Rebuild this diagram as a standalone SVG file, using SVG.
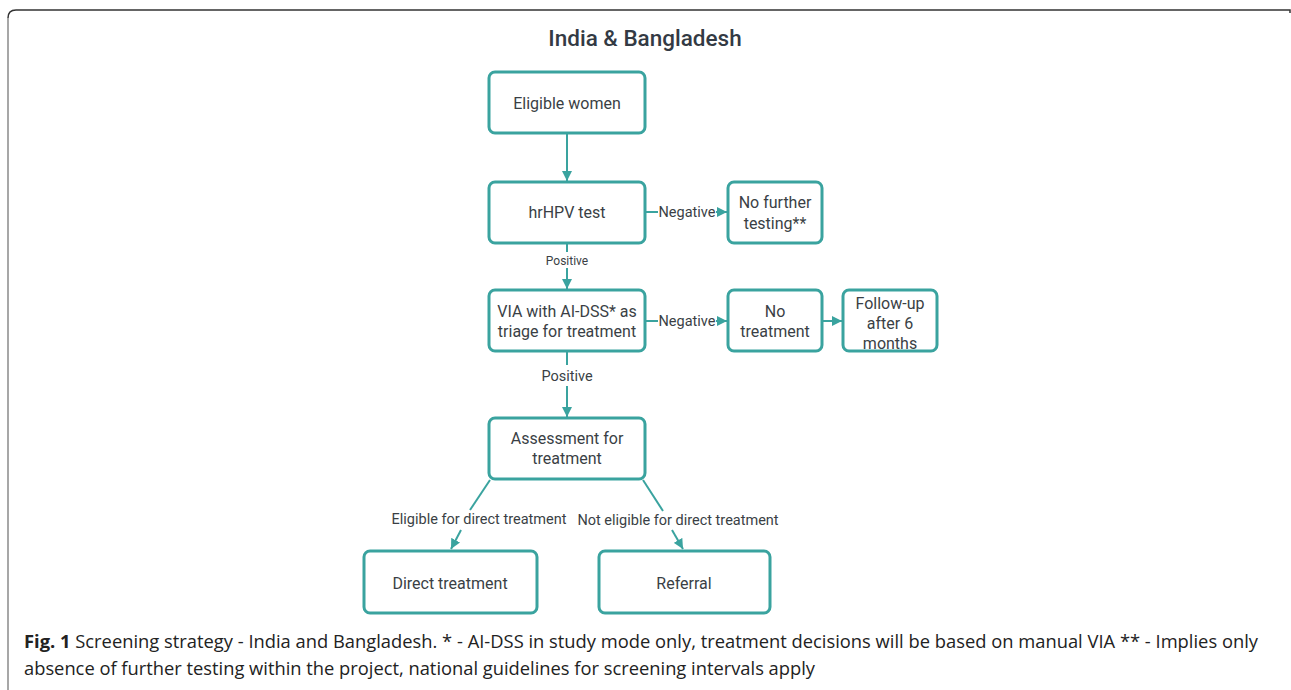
<svg xmlns="http://www.w3.org/2000/svg" width="1291" height="690" viewBox="0 0 1291 690">
<defs>
<marker id="ah" viewBox="0 0 10 10" refX="10" refY="5" markerWidth="10" markerHeight="10" markerUnits="userSpaceOnUse" orient="auto">
<path d="M0,0 L10,5 L0,10 Z" fill="#3aa39f"/>
</marker>
<style>
.box{fill:#fff;stroke:#3aa39f;stroke-width:3}
.t{font-family:Roboto,"Liberation Sans",sans-serif;font-size:16px;fill:#3a3f45;text-anchor:middle}
.lb{font-family:Roboto,"Liberation Sans",sans-serif;font-size:14.5px;fill:#3a3f45;text-anchor:middle}
.ln{stroke:#3aa39f;stroke-width:2;fill:none}
.cap{font-family:"Open Sans","Noto Sans",sans-serif;font-size:18px;fill:#222}
</style>
</defs>
<rect width="1291" height="690" fill="#fff"/>
<path d="M8,690 L8,18" stroke="#8a8a8a" stroke-width="1.5" fill="none"/>
<path d="M8,18 Q8,10 16,10 L1290,10 L1290,13" stroke="#333" stroke-width="1.5" fill="none"/>
<text x="645" y="46" text-anchor="middle" style="font-family:Roboto,'Liberation Sans',sans-serif;font-size:22.5px;font-weight:500;fill:#333a44">India &amp; Bangladesh</text>

<g id="connectors">
<line class="ln" x1="567" y1="134" x2="567" y2="181" marker-end="url(#ah)"/>
<line class="ln" x1="567" y1="244" x2="567" y2="252"/>
<line class="ln" x1="567" y1="268" x2="567" y2="289" marker-end="url(#ah)"/>
<text class="lb" x="567" y="265" style="font-size:12px">Positive</text>
<line class="ln" x1="646" y1="212" x2="658" y2="212"/>
<line class="ln" x1="716" y1="212" x2="727" y2="212" marker-end="url(#ah)"/>
<text class="lb" x="687" y="217">Negative</text>
<line class="ln" x1="646" y1="321" x2="658" y2="321"/>
<line class="ln" x1="716" y1="321" x2="727" y2="321" marker-end="url(#ah)"/>
<text class="lb" x="687" y="326">Negative</text>
<line class="ln" x1="823" y1="321" x2="842" y2="321" marker-end="url(#ah)"/>
<line class="ln" x1="567" y1="352" x2="567" y2="365"/>
<line class="ln" x1="567" y1="386" x2="567" y2="417" marker-end="url(#ah)"/>
<text class="lb" x="567" y="381">Positive</text>
<line class="ln" x1="490" y1="480" x2="470" y2="510"/>
<line class="ln" x1="461" y1="530" x2="451" y2="549" marker-end="url(#ah)"/>
<text class="lb" x="479" y="524">Eligible for direct treatment</text>
<line class="ln" x1="643" y1="480" x2="663" y2="511"/>
<line class="ln" x1="672" y1="530" x2="683" y2="549" marker-end="url(#ah)"/>
<text class="lb" x="678" y="525">Not eligible for direct treatment</text>
</g>

<g id="n-eligible">
<rect class="box" x="489" y="72" width="156" height="61" rx="6"/>
<text class="t" x="567" y="109">Eligible women</text>
</g>
<g id="n-hrhpv">
<rect class="box" x="489" y="182" width="156" height="61" rx="6"/>
<text class="t" x="567" y="218">hrHPV test</text>
</g>
<g id="n-nofurther">
<rect class="box" x="728" y="182" width="94" height="61" rx="6"/>
<text class="t" x="775" y="208">No further</text>
<text class="t" x="775" y="229">testing**</text>
</g>
<g id="n-via">
<rect class="box" x="489" y="290" width="156" height="61" rx="6"/>
<text class="t" x="567" y="317">VIA with AI-DSS* as</text>
<text class="t" x="567" y="337">triage for treatment</text>
</g>
<g id="n-notreat">
<rect class="box" x="728" y="290" width="94" height="61" rx="6"/>
<text class="t" x="775" y="317">No</text>
<text class="t" x="775" y="337">treatment</text>
</g>
<g id="n-followup">
<rect class="box" x="843" y="290" width="94" height="61" rx="6"/>
<text class="t" x="890" y="309">Follow-up</text>
<text class="t" x="890" y="329">after 6</text>
<text class="t" x="890" y="349">months</text>
</g>
<g id="n-assess">
<rect class="box" x="489" y="418" width="156" height="61" rx="6"/>
<text class="t" x="567" y="444">Assessment for</text>
<text class="t" x="567" y="464">treatment</text>
</g>
<g id="n-direct">
<rect class="box" x="364" y="551" width="173" height="62" rx="6"/>
<text class="t" x="450" y="589">Direct treatment</text>
</g>
<g id="n-referral">
<rect class="box" x="599" y="551" width="171" height="62" rx="6"/>
<text class="t" x="684" y="589">Referral</text>
</g>

<text class="cap" x="24" y="648" textLength="1234" lengthAdjust="spacingAndGlyphs"><tspan font-weight="bold">Fig. 1</tspan> Screening strategy - India and Bangladesh. * - AI-DSS in study mode only, treatment decisions will be based on manual VIA ** - Implies only</text>
<text class="cap" x="24" y="675" textLength="791" lengthAdjust="spacingAndGlyphs">absence of further testing within the project, national guidelines for screening intervals apply</text>
</svg>
